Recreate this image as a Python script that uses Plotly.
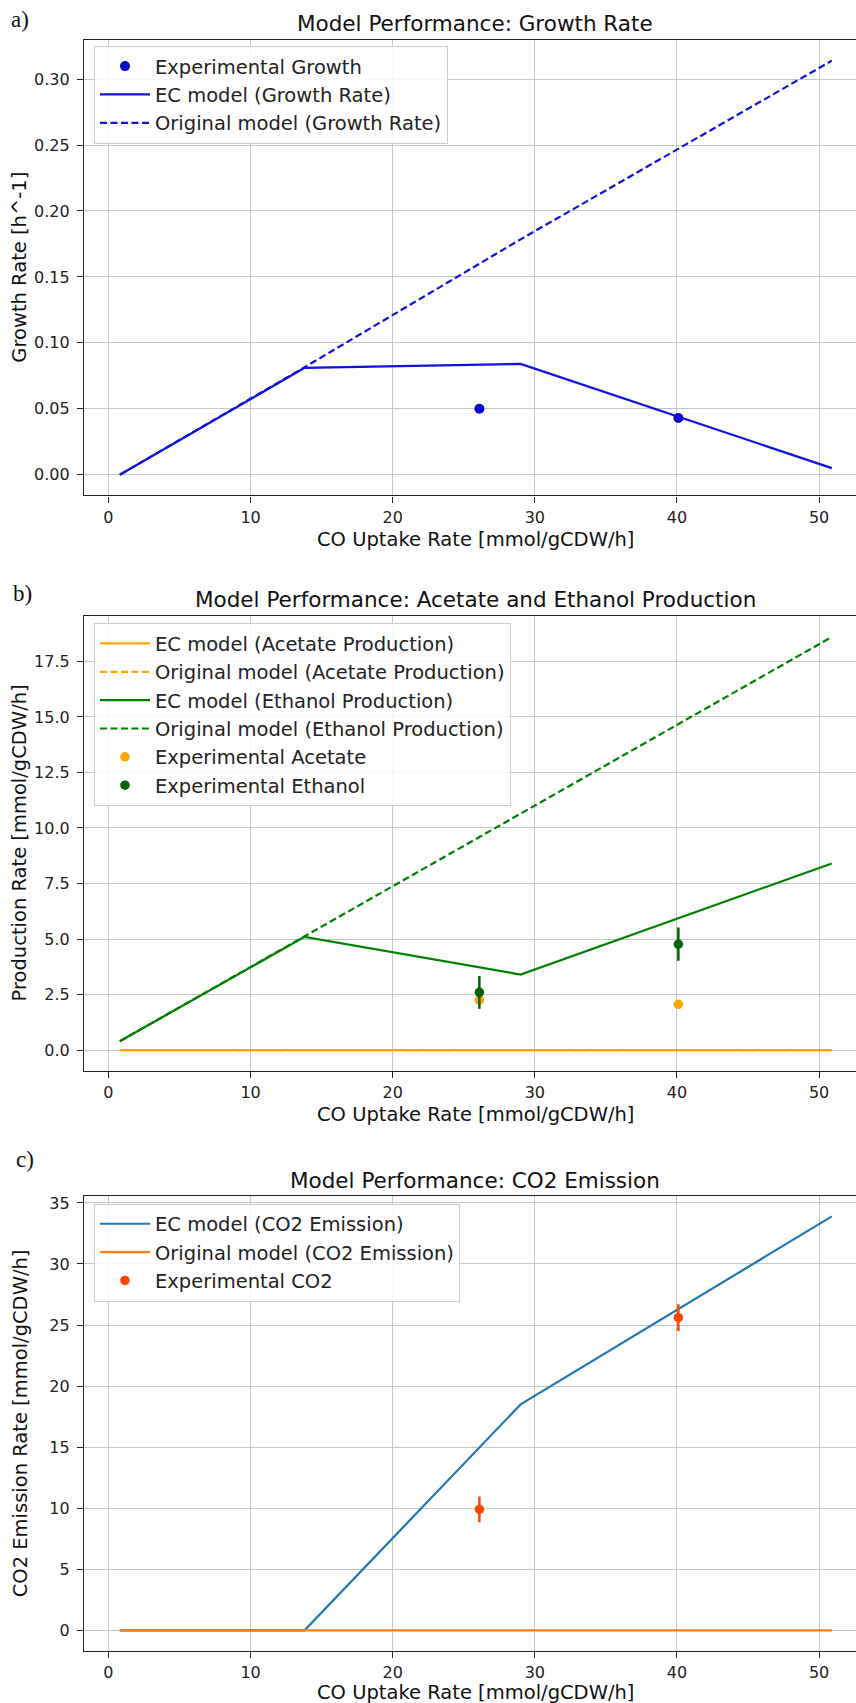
import plotly.graph_objects as go

# ---------------- data ----------------
co_uptake_model = [0.8, 13.8, 29.0, 50.9]
growth_ec = [0.0, 0.081, 0.084, 0.005]
growth_orig = [0.0, 0.0815, 0.1785, 0.314]

acetate_ec = [0.0, 0.0, 0.0, 0.0]
acetate_orig = [0.0, 0.0, 0.0, 0.0]
ethanol_ec = [0.4, 5.1, 3.4, 8.4]
ethanol_orig = [0.4, 5.12, 10.64, 18.6]

co2_ec = [0.0, 0.0, 18.5, 33.9]
co2_orig = [0.0, 0.0, 0.0, 0.0]

co_uptake_exp = [26.1, 40.1]
growth_exp = [0.050, 0.043]
acetate_exp = [2.25, 2.06]
acetate_err = [0.1, 0.1]
ethanol_exp = [2.6, 4.77]
ethanol_err = [0.74, 0.75]
co2_exp = [9.9, 25.6]
co2_err = [1.05, 1.1]

W, H = 856, 1703
FONT = "DejaVu Sans"
TICK = 16
LEG = 19.5
LAB = 19.5
TTL = 21.5

def py(px):
    return 1 - px / H

def pxx(px):
    return px / W

fig = go.Figure()

# Panel a
fig.add_trace(go.Scatter(x=co_uptake_exp, y=growth_exp, mode="markers",
                         marker=dict(color="#0a0acd", size=10),
                         name="Experimental Growth", xaxis="x", yaxis="y", legend="legend"))
fig.add_trace(go.Scatter(x=co_uptake_model, y=growth_ec, mode="lines",
                         line=dict(color="#1010e0", width=2.2),
                         name="EC model (Growth Rate)", xaxis="x", yaxis="y", legend="legend"))
fig.add_trace(go.Scatter(x=co_uptake_model, y=growth_orig, mode="lines",
                         line=dict(color="#1010e0", width=2.2, dash="7px,3.5px"),
                         name="Original model (Growth Rate)", xaxis="x", yaxis="y", legend="legend"))

# Panel b
fig.add_trace(go.Scatter(x=co_uptake_model, y=acetate_ec, mode="lines",
                         line=dict(color="#FFA500", width=2.2),
                         name="EC model (Acetate Production)", xaxis="x2", yaxis="y2", legend="legend2"))
fig.add_trace(go.Scatter(x=co_uptake_model, y=acetate_orig, mode="lines",
                         line=dict(color="#FFA500", width=2.2, dash="7px,3.5px"),
                         name="Original model (Acetate Production)", xaxis="x2", yaxis="y2", legend="legend2"))
fig.add_trace(go.Scatter(x=co_uptake_model, y=ethanol_ec, mode="lines",
                         line=dict(color="#008000", width=2.2),
                         name="EC model (Ethanol Production)", xaxis="x2", yaxis="y2", legend="legend2"))
fig.add_trace(go.Scatter(x=co_uptake_model, y=ethanol_orig, mode="lines",
                         line=dict(color="#008000", width=2.2, dash="7px,3.5px"),
                         name="Original model (Ethanol Production)", xaxis="x2", yaxis="y2", legend="legend2"))
fig.add_trace(go.Scatter(x=co_uptake_exp, y=acetate_exp, mode="markers",
                         marker=dict(color="#FFA500", size=9.5),
                         error_y=dict(type="data", array=acetate_err, color="#FFA500", thickness=2.5, width=0),
                         name="Experimental Acetate", xaxis="x2", yaxis="y2", legend="legend2"))
fig.add_trace(go.Scatter(x=co_uptake_exp, y=ethanol_exp, mode="markers",
                         marker=dict(color="#006400", size=9.5),
                         error_y=dict(type="data", array=ethanol_err, color="#006400", thickness=2.5, width=0),
                         name="Experimental Ethanol", xaxis="x2", yaxis="y2", legend="legend2"))

# Panel c
fig.add_trace(go.Scatter(x=co_uptake_model, y=co2_ec, mode="lines",
                         line=dict(color="#1f77b4", width=2.2),
                         name="EC model (CO2 Emission)", xaxis="x3", yaxis="y3", legend="legend3"))
fig.add_trace(go.Scatter(x=co_uptake_model, y=co2_orig, mode="lines",
                         line=dict(color="#ff7f0e", width=2.2),
                         name="Original model (CO2 Emission)", xaxis="x3", yaxis="y3", legend="legend3"))
fig.add_trace(go.Scatter(x=co_uptake_exp, y=co2_exp, mode="markers",
                         marker=dict(color="#FF4500", size=9.5),
                         error_y=dict(type="data", array=co2_err, color="#FF4500", thickness=2.5, width=0),
                         name="Experimental CO2", xaxis="x3", yaxis="y3", legend="legend3"))

x_dom = [pxx(84), 1.0]
panels = [  # (top px, bottom px, yrange, dtick, fmt)
    (38, 494, [-0.0157, 0.3297], 0.05, ".2f"),
    (615, 1070, [-0.93, 19.53], 2.5, ".1f"),
    (1195, 1651, [-1.7, 35.6], 5, "d"),
]

axis_common = dict(showline=True, linecolor="#222", linewidth=1.2,
                   ticks="outside", ticklen=6, tickwidth=1.2, tickcolor="#222",
                   showgrid=True, gridcolor="#c6c6c6", gridwidth=1.4,
                   zeroline=False, tickfont=dict(family=FONT, size=TICK, color="#222"))

layout = dict(width=W, height=H, margin=dict(l=0, r=0, t=0, b=0),
              paper_bgcolor="white", plot_bgcolor="white",
              font=dict(family=FONT, color="#222"))

for i, (top, bot, yr, dt, fmt) in enumerate(panels):
    sfx = "" if i == 0 else str(i + 1)
    layout["xaxis" + sfx] = dict(domain=x_dom, range=[-1.72, 52.6], dtick=10, tick0=0,
                                 anchor="y" + sfx, mirror=True, ticklabelstandoff=1,
                                 **axis_common)
    layout["yaxis" + sfx] = dict(domain=[py(bot), py(top)], range=yr, dtick=dt, tick0=0,
                                 tickformat=fmt, anchor="x" + sfx, ticklabelstandoff=4,
                                 **axis_common)

leg_common = dict(bgcolor="rgba(255,255,255,0.85)", bordercolor="#cccccc", borderwidth=1,
                  font=dict(family=FONT, size=LEG, color="#222"),
                  xanchor="left", yanchor="top", traceorder="normal", itemwidth=50)
layout["legend"] = dict(x=pxx(94), y=py(44), **leg_common)
layout["legend2"] = dict(x=pxx(94), y=py(622), **leg_common)
layout["legend3"] = dict(x=pxx(94), y=py(1203), **leg_common)
layout["showlegend"] = True

fig.update_layout(**layout)

titles = ["Model Performance: Growth Rate",
          "Model Performance: Acetate and Ethanol Production",
          "Model Performance: CO2 Emission"]
title_y = [22, 598, 1180]
letters = ["a)", "b)", "c)"]
letter_pos = [(20, 18), (22, 592), (25, 1159)]
ylabels = ["Growth Rate [h^-1]", "Production Rate [mmol/gCDW/h]", "CO2 Emission Rate [mmol/gCDW/h]"]
xlabel_y = [538, 1114, 1692]
xlabel = "CO Uptake Rate [mmol/gCDW/h]"

cx = pxx(475)
for i in range(3):
    top, bot = panels[i][0], panels[i][1]
    fig.add_annotation(text=titles[i], x=cx, y=py(title_y[i]), xref="paper", yref="paper",
                       xanchor="center", yanchor="middle", showarrow=False, borderpad=0,
                       font=dict(family=FONT, size=TTL, color="#111"))
    fig.add_annotation(text=letters[i], x=pxx(letter_pos[i][0]), y=py(letter_pos[i][1]),
                       xref="paper", yref="paper", xanchor="center", yanchor="middle", borderpad=0,
                       showarrow=False, font=dict(family="Liberation Serif", size=23, color="#111"))
    fig.add_annotation(text=xlabel, x=cx, y=py(xlabel_y[i]), xref="paper", yref="paper",
                       xanchor="center", yanchor="middle", showarrow=False, borderpad=0,
                       font=dict(family=FONT, size=LAB, color="#111"))
    fig.add_annotation(text=ylabels[i], x=pxx(20), y=py((top + bot) / 2), xref="paper", yref="paper",
                       xanchor="center", yanchor="middle", textangle=-90, showarrow=False, borderpad=0,
                       font=dict(family=FONT, size=LAB, color="#111"))

fig.write_html("out.html", config={"displayModeBar": False},
               post_script="document.body.style.margin='0';document.body.style.padding='0';"
                           "document.body.style.overflow='hidden';")
